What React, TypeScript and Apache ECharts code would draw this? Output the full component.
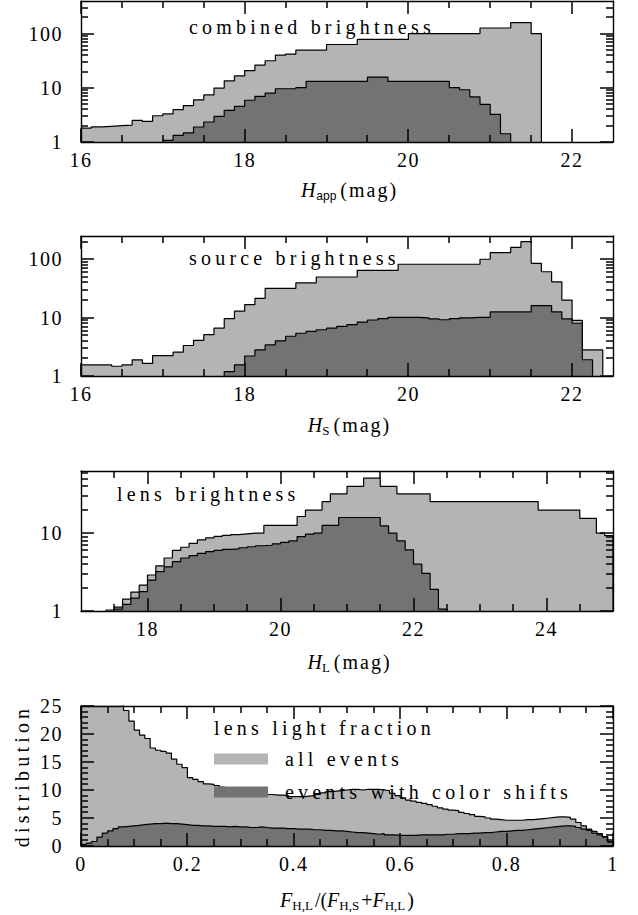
import React, { useEffect, useRef } from "react";
import * as echarts from "echarts";

const FONT = "'Liberation Serif', 'Times New Roman', serif";
const SANS = "'Liberation Sans', Arial, sans-serif";
const LIGHT = "#b4b4b4";
const DARK = "#737373";
const INK = "#000000";

// ---------- data (bin widths, bin starts, heights) ----------
const magBin = 0.125;
const fracBin = 0.01;

const combinedAllStart = 16.0;
const combinedAll = [
  1.8, 1.9, 1.95, 2.0, 2.05, 2.5, 2.4, 3.05, 3.3, 3.96,
  4.7, 6.0, 7.4, 9.9, 13.4, 16.6, 20.8, 26.3, 31.6, 40,
  42, 49.5, 49.5, 49.5, 63, 63, 63, 78, 78, 78,
  78, 78, 100, 100, 100, 100, 100, 100, 100, 127,
  127, 127, 160, 160, 100,
];
const combinedShiftStart = 17.0;
const combinedShift = [
  1.07, 1.33, 1.47, 1.89, 2.34, 2.97, 3.84, 4.55, 5.9, 6.96,
  8.0, 9.6, 9.6, 10.1, 13.2, 13.2, 13.2, 13.2, 13.2, 13.2,
  15.8, 15.8, 13.2, 13.2, 13.2, 13.2, 13.2, 13.2, 10.1, 9.2,
  6.8, 4.95, 3.24, 1.42,
];

const sourceAllStart = 16.0;
const sourceAll = [
  1.55, 1.55, 1.55, 1.47, 1.55, 1.89, 1.65, 2.24, 2.24, 2.56,
  3.33, 4.07, 5.1, 6.6, 9.6, 12.9, 16.7, 21.3, 31.6, 31.6,
  31.6, 39.5, 39.5, 49.6, 49.6, 49.6, 49.6, 64.6, 64.6, 64.6,
  64.6, 82, 82, 82, 82, 82, 82, 82, 82, 100,
  130, 130, 160, 200, 85, 61, 41, 20, 9, 2.8,
  2.8,
];
const sourceShiftStart = 17.75;
const sourceShift = [
  1.19, 1.55, 2.2, 2.8, 3.4, 4.0, 4.8, 5.4, 5.8, 6.2,
  6.6, 7.1, 7.6, 8.4, 9.1, 9.6, 10.1, 10.1, 10.1, 9.9,
  9.5, 9.2, 9.6, 9.9, 10.1, 10.1, 12.5, 12.5, 12.5, 12.5,
  16, 16, 12.5, 9.5, 8, 1.9,
];

const lensAllStart = 17.375;
const lensAll = [
  1.03, 1.12, 1.42, 1.75, 2.15, 2.9, 3.8, 4.8, 6.0, 6.6,
  7.4, 8.2, 8.7, 9.1, 9.4, 9.6, 9.8, 10.0, 10.0, 12.6,
  12.6, 12.6, 12.6, 16.4, 19.8, 19.8, 25.4, 32, 32, 40,
  40, 51, 51, 40, 40, 32, 32, 32, 32, 25.4,
  25.4, 25.4, 25.4, 25.4, 25.4, 25.4, 25.4, 25.4, 25.4, 25.4,
  25.4, 25.4, 19.8, 19.8, 19.8, 19.8, 19.8, 15.5, 15.5, 10,
  9.3,
];
const lensShiftStart = 17.5;
const lensShift = [
  1.06, 1.22, 1.46, 1.77, 2.5, 3.2, 3.7, 4.3, 4.8, 5.15,
  5.5, 5.8, 6.0, 6.2, 6.3, 6.5, 6.7, 6.9, 7.0, 7.3,
  7.6, 7.95, 9.06, 9.7, 10.0, 12.6, 12.6, 15.9, 15.9, 15.9,
  15.9, 15.9, 12.4, 10, 7.95, 6.1, 4.0, 3.05, 1.9, 1.06,
];

const fractionStart = 0;
const fractionAll = [
  40, 38, 36, 34, 32, 30, 28, 26, 24.2, 22.3,
  20.7, 19.8, 19.2, 17.5, 17.1, 16.9, 16.6, 15.5, 14.6, 14.0,
  12.2, 11.9, 11.5, 11.1, 11.0, 10.8, 10.5, 10.1, 10.0, 9.9,
  9.8, 9.6, 9.5, 9.3, 9.6, 9.2, 9.1, 9.1, 9.0, 8.8,
  8.8, 8.8, 8.9, 9.0, 9.2, 9.5, 9.7, 9.8, 9.9, 10.0,
  10.1, 10.1, 10.0, 10.1, 10.1, 10.1, 10.0, 9.9, 9.4, 9.0,
  8.6, 8.2, 8.0, 7.8, 7.6, 7.4, 7.1, 6.8, 6.6, 6.4,
  6.3, 6.0, 5.8, 5.6, 5.3, 5.2, 5.0, 4.8, 4.7, 4.6,
  4.6, 4.6, 4.6, 4.7, 4.7, 4.8, 4.9, 5.0, 5.1, 5.2,
  5.2, 5.1, 4.8, 4.2, 3.6, 3.0, 2.6, 2.2, 1.7, 0.8,
];
const fractionShift = [
  0.3, 0.5, 0.8, 1.6, 2.3, 2.7, 3.1, 3.4, 3.5, 3.6,
  3.7, 3.8, 3.9, 4.0, 4.0, 4.1, 4.0, 4.0, 3.9, 3.8,
  3.7, 3.7, 3.6, 3.6, 3.5, 3.5, 3.5, 3.4, 3.5, 3.4,
  3.4, 3.3, 3.3, 3.4, 3.3, 3.2, 3.2, 3.2, 3.1, 3.1,
  3.0, 3.0, 3.0, 2.9, 2.9, 2.8, 2.8, 2.7, 2.7, 2.6,
  2.5, 2.4, 2.4, 2.3, 2.2, 2.1, 2.2, 2.0, 2.0, 1.9,
  1.9, 1.9, 1.9, 2.0, 2.0, 2.0, 2.0, 2.0, 2.1, 2.1,
  2.2, 2.2, 2.2, 2.3, 2.3, 2.4, 2.4, 2.5, 2.6, 2.6,
  2.7, 2.8, 2.8, 2.9, 3.0, 3.1, 3.2, 3.3, 3.4, 3.5,
  3.6, 3.6, 3.5, 3.3, 3.0, 2.8, 2.3, 2.0, 1.6, 0.7,
];

// ---------- tick labels ----------
const magTicks = [16, 18, 20, 22];
const lensMagTicks = [18, 20, 22, 24];
const fractionTicks = [0, 0.2, 0.4, 0.6, 0.8, 1];
const countTicks = [0, 5, 10, 15, 20, 25];
const decadeTicks = [1, 10, 100];

const panelTitles = ["combined brightness", "source brightness", "lens brightness", "lens light fraction"];
const legendNames = ["all events", "events with color shifts"];

// ---------- helpers ----------
function steps(start: number, width: number, values: number[], base: number) {
  const pts: number[][] = [[start, base]];
  values.forEach((v, i) => pts.push([+(start + i * width).toFixed(6), v]));
  const end = +(start + values.length * width).toFixed(6);
  pts.push([end, values[values.length - 1]]);
  pts.push([end, base]);
  return pts;
}

function minorTicks(min: number, max: number, step: number, majors: number[]) {
  const out: number[] = [];
  const n = Math.round((max - min) / step);
  for (let k = 1; k < n; k++) {
    const v = +(min + k * step).toFixed(6);
    if (!majors.some((m) => Math.abs(m - v) < 1e-9)) out.push(v);
  }
  return out;
}

function logMinorValues(max: number) {
  const out: number[] = [];
  for (let d = 0; Math.pow(10, d) < max; d++) {
    for (let k = 2; k <= 9; k++) {
      const v = k * Math.pow(10, d);
      if (v < max) out.push(v);
    }
  }
  return out;
}

const frameLine = { color: INK, width: 1.4 };

const nameStyle = {
  color: INK,
  fontFamily: FONT,
  fontSize: 20,
  rich: {
    i: { fontFamily: FONT, fontSize: 20, fontStyle: "italic", color: INK },
    sub: { fontFamily: FONT, fontSize: 13, color: INK, padding: [12, 2, 0, 0] },
    subm: { fontFamily: FONT, fontSize: 13, color: INK, padding: [12, 9, 0, 0] },
    subs: { fontFamily: SANS, fontSize: 12, color: INK, padding: [12, 9, 0, 1] },
  },
};

const GRID_LEFT = 81;
const GRID_WIDTH = 532;

const panels = [
  {
    top: 1, height: 141, xMin: 16, xMax: 22.5, xMajor: magTicks, xMinorStep: 0.5,
    log: true, yMax: 400, xName: "{i|H}{subs|app}(mag)", nameGap: 36,
    title: panelTitles[0], titleX: 189, titleY: 26.5,
    names: ["combined: all", "combined: color shifts"],
    all: steps(combinedAllStart, magBin, combinedAll, 1),
    shift: steps(combinedShiftStart, magBin, combinedShift, 1),
  },
  {
    top: 236, height: 140, xMin: 16, xMax: 22.5, xMajor: magTicks, xMinorStep: 0.5,
    log: true, yMax: 250, xName: "{i|H}{subm|S}(mag)", nameGap: 36,
    title: panelTitles[1], titleX: 189, titleY: 258,
    names: ["source: all", "source: color shifts"],
    all: steps(sourceAllStart, magBin, sourceAll, 1),
    shift: steps(sourceShiftStart, magBin, sourceShift, 1),
  },
  {
    top: 471, height: 140, xMin: 17, xMax: 25, xMajor: lensMagTicks, xMinorStep: 0.5,
    log: true, yMax: 63, xName: "{i|H}{subm|L}(mag)", nameGap: 38,
    title: panelTitles[2], titleX: 117, titleY: 494,
    names: ["lens: all", "lens: color shifts"],
    all: steps(lensAllStart, magBin, lensAll, 1),
    shift: steps(lensShiftStart, magBin, lensShift, 1),
  },
  {
    top: 706, height: 140, xMin: 0, xMax: 1, xMajor: fractionTicks, xMinorStep: 0.05,
    log: false, yMax: 25, xName: "{i|F}{sub|H,L}/({i|F}{sub|H,S}+{i|F}{sub|H,L})", nameGap: 41,
    title: panelTitles[3], titleX: 214, titleY: 728, yName: "distribution",
    names: legendNames,
    all: steps(fractionStart, fracBin, fractionAll, 0),
    shift: steps(fractionStart, fracBin, fractionShift, 0),
  },
];

function buildX(p: any, gi: number) {
  const common = {
    type: "value", gridIndex: gi, min: p.xMin, max: p.xMax, z: 10, silent: true,
    splitLine: { show: false },
    axisLine: { show: true, onZero: false, lineStyle: frameLine },
    axisTick: { show: false },
  };
  return [
    {
      ...common, position: "bottom",
      axisLabel: { show: true, customValues: p.xMajor, margin: 8, color: INK, fontFamily: FONT, fontSize: 20, hideOverlap: false },
      name: p.xName, nameLocation: "middle", nameGap: p.nameGap, nameTextStyle: nameStyle,
    },
    { ...common, position: "top", axisLabel: { show: false } },
  ];
}

function buildY(p: any, gi: number) {
  const common = {
    gridIndex: gi, z: 10, silent: true, splitLine: { show: false },
    axisLine: { show: true, onZero: false, lineStyle: frameLine },
    axisTick: { show: false },
    ...(p.log ? { type: "log", logBase: 10, min: 1, max: p.yMax } : { type: "value", min: 0, max: p.yMax, interval: 5 }),
  };
  const left: any = {
    ...common, position: "left",
    axisLabel: {
      show: true, margin: 18, color: INK, fontFamily: FONT, fontSize: 20, hideOverlap: false,
      showMinLabel: true, showMaxLabel: !p.log,
    },
  };
  if (p.yName) {
    Object.assign(left, {
      name: p.yName, nameLocation: "middle", nameGap: 49, nameRotate: 90,
      nameTextStyle: { color: INK, fontFamily: FONT, fontSize: 20 },
    });
  }
  return [left, { ...common, position: "right", axisLabel: { show: false } }];
}

// inward tick marks along all four sides of each frame, following each axis's scale
function tickGraphics() {
  const out: any[] = [];
  const seg = (x1: number, y1: number, x2: number, y2: number) => {
    out.push({
      id: "tk" + out.length, type: "line", silent: true, z: 30,
      shape: { x1, y1, x2, y2 }, style: { stroke: INK, lineWidth: 1.5 },
    });
  };
  panels.forEach((p) => {
    const left = GRID_LEFT;
    const right = GRID_LEFT + GRID_WIDTH;
    const top = p.top;
    const bottom = p.top + p.height;
    const px = (v: number) => left + ((v - p.xMin) / (p.xMax - p.xMin)) * GRID_WIDTH;
    const py = (v: number) =>
      p.log
        ? bottom - (Math.log10(v) / Math.log10(p.yMax)) * p.height
        : bottom - (v / p.yMax) * p.height;
    const xMinors = minorTicks(p.xMin, p.xMax, p.xMinorStep, p.xMajor);
    const yMajors = p.log ? decadeTicks.filter((v) => v < p.yMax) : countTicks;
    const yMinors = p.log ? logMinorValues(p.yMax) : minorTicks(0, p.yMax, 1, countTicks);
    const xt = (v: number, len: number) => {
      const x = Math.round(px(v));
      seg(x, bottom, x, bottom - len);
      seg(x, top, x, top + len);
    };
    const yt = (v: number, len: number) => {
      const y = Math.round(py(v));
      seg(left, y, left + len, y);
      seg(right, y, right - len, y);
    };
    p.xMajor.forEach((v: number) => xt(v, 13));
    xMinors.forEach((v) => xt(v, 7));
    yMajors.forEach((v: number) => yt(v, 13));
    yMinors.forEach((v) => yt(v, 7));
  });
  return out;
}

function buildOption() {
  const grid = panels.map((p) => ({
    left: GRID_LEFT, width: GRID_WIDTH, top: p.top, height: p.height, show: false,
    containLabel: false, outerBoundsMode: "none",
  }));
  const xAxis = panels.flatMap((p, gi) => buildX(p, gi));
  const yAxis = panels.flatMap((p, gi) => buildY(p, gi));
  const series = panels.flatMap((p, gi) => [
    {
      type: "line", name: p.names[0], xAxisIndex: gi * 2, yAxisIndex: gi * 2, data: p.all,
      step: "end", symbol: "none", showSymbol: false, clip: true, silent: true, z: 2,
      lineStyle: { color: INK, width: 1.2 }, itemStyle: { color: LIGHT },
      areaStyle: { color: LIGHT, opacity: 1, origin: "start" },
    },
    {
      type: "line", name: p.names[1], xAxisIndex: gi * 2, yAxisIndex: gi * 2, data: p.shift,
      step: "end", symbol: "none", showSymbol: false, clip: true, silent: true, z: 3,
      lineStyle: { color: INK, width: 1.2 }, itemStyle: { color: DARK },
      areaStyle: { color: DARK, opacity: 1, origin: "start" },
    },
  ]);
  const titles = panels.map((p, gi) => ({
    id: "title-" + gi, type: "text", x: p.titleX, y: p.titleY, z: 20, silent: true,
    style: {
      text: p.title, fill: INK, fontFamily: FONT, fontSize: 20,
      textAlign: "left", textVerticalAlign: "middle", align: "left", verticalAlign: "middle",
    },
  }));
  return {
    animation: false,
    textStyle: { fontFamily: FONT },
    grid, xAxis, yAxis, series,
    graphic: [...titles, ...tickGraphics()],
    legend: {
      show: true, orient: "vertical", left: 214, top: 749, itemWidth: 54, itemHeight: 11, itemGap: 13,
      icon: "rect", selectedMode: false, padding: 0,
      formatter: (name: string) => "{t|" + name + "}",
      textStyle: {
        color: INK, fontFamily: FONT, fontSize: 20, lineHeight: 11,
        rich: { t: { color: INK, fontFamily: FONT, fontSize: 20, lineHeight: 11, padding: [0, 0, 0, 12] } },
      },
      data: [
        { name: legendNames[0], itemStyle: { color: LIGHT, borderWidth: 0 } },
        { name: legendNames[1], itemStyle: { color: DARK, borderWidth: 0 } },
      ],
    },
  };
}

export default function App() {
  const ref = useRef<HTMLDivElement>(null);
  useEffect(() => {
    const el = ref.current;
    if (!el) return;
    const chart = echarts.init(el, null, { renderer: "svg", width: 638, height: 915 });
    chart.setOption(buildOption() as any);
    // mimic the widely tracked typesetting of the original figure
    el.querySelectorAll("text").forEach((t) => {
      const s = (t.textContent || "").trim();
      if (s.length > 5 && /[a-z]/.test(s)) t.setAttribute("letter-spacing", "4.2");
      else if (s === "(mag)") t.setAttribute("letter-spacing", "2");
      else if (/^[\d.]+$/.test(s)) t.setAttribute("letter-spacing", "1.5");
    });
    return () => chart.dispose();
  }, []);
  return (
    <div
      ref={ref}
      style={{ position: "absolute", left: 0, top: 0, width: 638, height: 915, background: "#fff" }}
    />
  );
}
